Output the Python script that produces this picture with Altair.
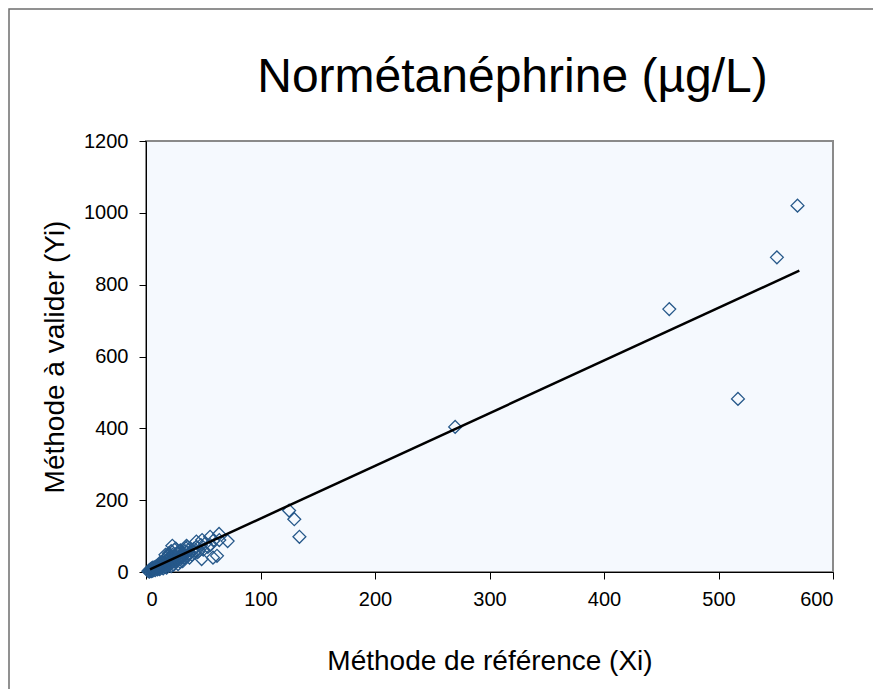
import altair as alt
import pandas as pd

# Data
ref_x = [3, 4, 4, 5, 5, 6, 6, 7, 7, 8, 8, 9, 9, 10, 10, 11, 11, 12, 12, 13, 13, 14, 14, 15, 15,
         16, 16, 17, 17, 18, 18, 19, 19, 20, 20, 21, 21, 22, 22, 23, 23, 24, 24, 25, 25, 26, 27,
         28, 28, 29, 30, 30, 31, 32, 33, 34, 35, 35, 36, 37, 38, 40, 42, 44, 46, 48, 49, 48.6,
         50, 52, 54, 56, 56, 58.5, 59, 62, 64, 63.8, 71.3, 45, 27, 18, 12, 26, 32, 35.4,
         2, 3, 5, 6, 8, 10, 12, 14, 15, 16, 18, 19, 20, 22, 24, 25, 26, 28, 30, 32,
         34, 36, 38, 40, 42, 44, 30, 20, 22, 17,
         125, 129.5, 134, 270, 457, 517, 551, 569]
val_y = [5, 3, 8, 6, 10, 4, 9, 12, 7, 10, 14, 9, 16, 12, 18, 10, 15, 20, 13, 17, 24, 12, 20, 25, 16,
         21, 28, 14, 24, 30, 20, 26, 35, 18, 28, 40, 24, 32, 45, 73, 28, 38, 50, 30, 62, 42, 34,
         48, 55, 38, 45, 60, 40, 52, 48, 58, 66, 44, 55, 62, 50, 60, 65, 70, 58, 75, 89, 36,
         62, 80, 70, 98, 75, 40, 88, 45, 89, 106, 86, 55, 52, 40, 25, 65, 45, 73,
         2, 1, 2, 12, 5, 7, 8, 28, 10, 34, 12, 45, 36, 16, 20, 45, 30, 22, 35, 30,
         40, 70, 40, 48, 55, 85, 28, 52, 58, 48,
         171, 147, 98, 404, 732, 482, 876, 1020]

# Trend line (slope, intercept)
fit_slope = [1.466]
fit_intercept = [2.3]

chart_title = ["Normétanéphrine (µg/L)"]
x_ticks = [0, 100, 200, 300, 400, 500, 600]
y_ticks = [0, 200, 400, 600, 800, 1000, 1200]

pts = pd.DataFrame({"x": ref_x, "y": val_y})
x_lo, x_hi = 3.5, max(ref_x) + 1.6
line_df = pd.DataFrame({
    "x": [x_lo, x_hi],
    "y": [fit_slope[0] * x_lo + fit_intercept[0], fit_slope[0] * x_hi + fit_intercept[0]],
})

FONT = "Liberation Sans"

xscale = alt.Scale(domain=[0, 600], nice=False, zero=True)
yscale = alt.Scale(domain=[0, 1200], nice=False, zero=True)

xaxis = alt.Axis(values=x_ticks, format="d", title="Méthode de référence (Xi)", grid=False,
                 domainColor="black", tickColor="black", tickSize=7,
                 labelFont=FONT, labelFontSize=20, labelColor="black", labelPadding=10,
                 titleFont=FONT, titleFontSize=28, titleFontWeight="normal", titleColor="black",
                 titlePadding=38)
yaxis = alt.Axis(values=y_ticks, format="d", title="Méthode à valider (Yi)", grid=False,
                 domainColor="black", tickColor="black", tickSize=7,
                 labelFont=FONT, labelFontSize=20, labelColor="black", labelPadding=11,
                 titleFont=FONT, titleFontSize=28, titleFontWeight="normal", titleColor="black",
                 titlePadding=14)

points = alt.Chart(pts).mark_point(
    shape="diamond", filled=False, size=165, strokeWidth=1.3, color="#26588A", opacity=1
).encode(
    x=alt.X("x:Q", scale=xscale, axis=xaxis),
    y=alt.Y("y:Q", scale=yscale, axis=yaxis),
)

trend = alt.Chart(line_df).mark_line(color="black", strokeWidth=2.5).encode(
    x=alt.X("x:Q", scale=xscale),
    y=alt.Y("y:Q", scale=yscale),
)

frame = alt.Chart(pd.DataFrame({"a": [0]})).mark_rect(
    fill=None, stroke="#6e6e6e", strokeWidth=1.5, clip=False
).encode(
    x=alt.value(-137), x2=alt.value(2000), y=alt.value(-132), y2=alt.value(2000)
)

title_mark = alt.Chart(pd.DataFrame({"t": chart_title})).mark_text(
    font=FONT, fontSize=48, color="black", align="center", baseline="alphabetic", clip=False
).encode(
    text="t:N", x=alt.value(366.5), y=alt.value(-49)
)

chart = alt.layer(frame, points, trend, title_mark).properties(
    width=687, height=431,
    padding={"left": 138, "top": 133, "right": 40, "bottom": 117},
    autosize="none",
).configure_view(
    fill="#F5F9FE", stroke="#8a8a8a", strokeWidth=2
)

chart.save("out.html", embed_options={"renderer": "svg", "actions": False})
